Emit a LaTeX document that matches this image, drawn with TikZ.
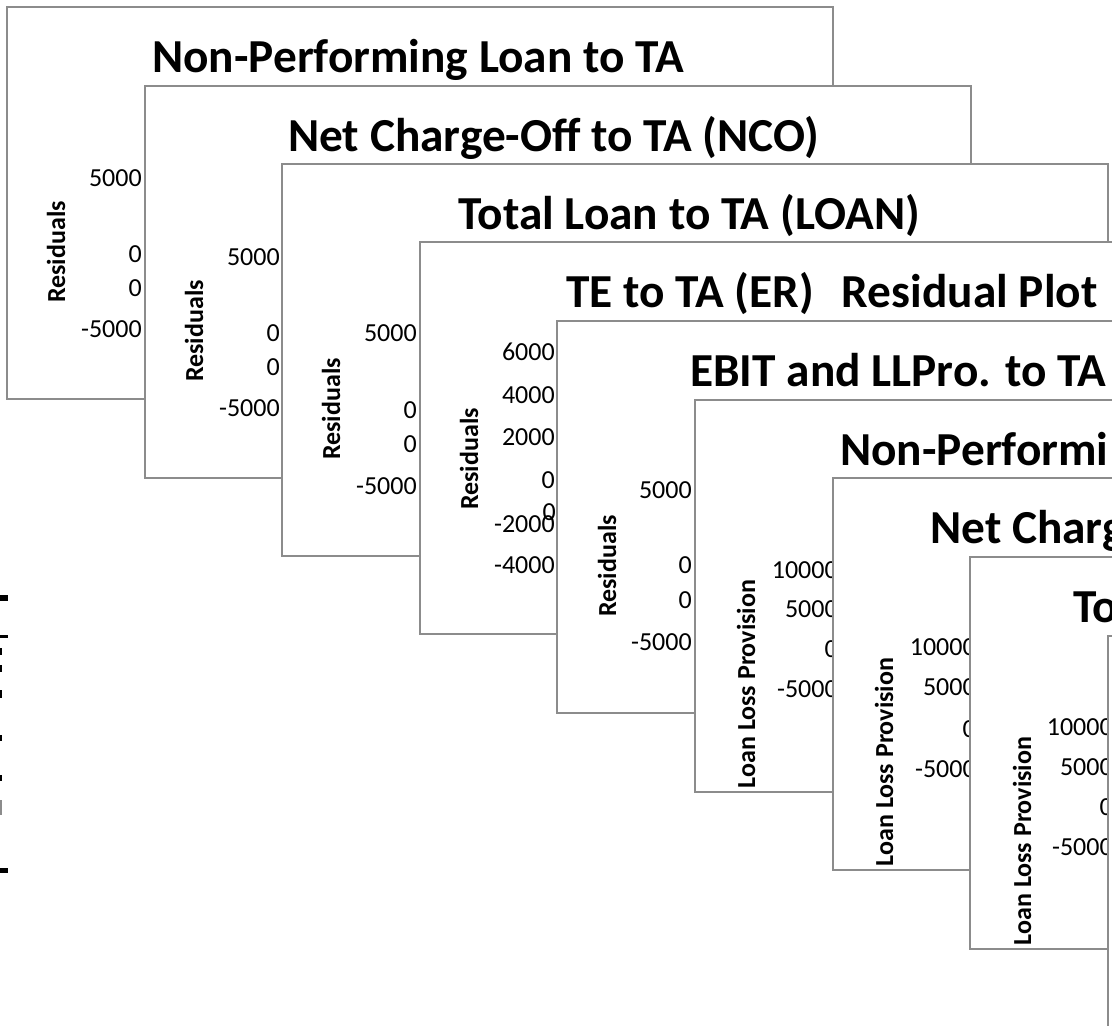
\documentclass[tikz,border=0pt]{standalone}
\usepackage{fontspec}
\setmainfont{Carlito}
\usepackage{tikz}
\definecolor{panelgray}{RGB}{140,140,140}

\begin{document}
\begin{tikzpicture}[
            x=0.75pt, y=-0.75pt,
            panel/.style={rectangle, draw=panelgray, fill=white, line width=1.5pt, inner sep=0pt,
                          minimum width=619.5pt, minimum height=294pt, anchor=north west},
            chart_title/.style={font=\fontsize{35.5}{36}\selectfont\bfseries, inner sep=0pt, anchor=base west},
            tick_label/.style={font=\fontsize{19.5}{20}\selectfont, inner sep=0pt, anchor=base east},
            axis_title/.style={font=\fontsize{19.5}{20}\selectfont\bfseries, inner sep=0pt, rotate=90}
        ]
        \useasboundingbox (0,0) rectangle (1112,1025);
        \clip (0,0) rectangle (1112,1025);

        % Marks cut at the left edge
        \fill (0,595) rectangle (8,601);
        \fill (0,635) rectangle (8,638);
        \fill (0,648) rectangle (2,655);
        \fill (0,665) rectangle (2,672);
        \fill (0,690) rectangle (2,698);
        \fill (0,735) rectangle (2,741);
        \fill (0,775) rectangle (2,781);
        \fill[panelgray] (0,800) rectangle (2,815);
        \fill (0,868) rectangle (8,873);

        % Panel 1 - NPL
        \node[panel] (p_npl) at (6,6) {};
        \node[chart_title] (t_npl) at (152,72) {Non-Performing Loan to TA};
        \node[tick_label] (npl_a) at (142,186) {5000};
        \node[tick_label] (npl_b) at (142,262) {0};
        \node[tick_label] (npl_c) at (142,296) {0};
        \node[tick_label] (npl_d) at (142,337) {-5000};
        \node[axis_title] (y_npl) at (56,252) {Residuals};

        % Panel 2 - NCO
        \node[panel] (p_nco) at (144,85) {};
        \node[chart_title] (t_nco) at (288,151) {Net Charge-Off to TA (NCO)};
        \node[tick_label] (nco_a) at (280,265) {5000};
        \node[tick_label] (nco_b) at (280,341) {0};
        \node[tick_label] (nco_c) at (280,375) {0};
        \node[tick_label] (nco_d) at (280,416) {-5000};
        \node[axis_title] (y_nco) at (194,331) {Residuals};

        % Panel 3 - LOAN
        \node[panel] (p_loan) at (281,163) {};
        \node[chart_title] (t_loan) at (458,229) {Total Loan to TA (LOAN)};
        \node[tick_label] (loan_a) at (417,341) {5000};
        \node[tick_label] (loan_b) at (417,418) {0};
        \node[tick_label] (loan_c) at (417,452) {0};
        \node[tick_label] (loan_d) at (417,494) {-5000};
        \node[axis_title] (y_loan) at (331,409) {Residuals};

        % Panel 4 - ER
        \node[panel] (p_er) at (419,241) {};
        \node[chart_title] (t_er) at (566,307) {TE to TA (ER)\hspace{21pt}Residual Plot};
        \node[tick_label] (er_a) at (555,360) {6000};
        \node[tick_label] (er_b) at (555,403) {4000};
        \node[tick_label] (er_c) at (555,445) {2000};
        \node[tick_label] (er_d) at (555,488) {0};
        \node[tick_label] (er_e) at (556,520) {0};
        \node[tick_label] (er_f) at (555,532) {-2000};
        \node[tick_label] (er_g) at (555,573) {-4000};
        \node[axis_title] (y_er) at (469,459) {Residuals};

        % Panel 5 - EBIT
        \node[panel] (p_ebit) at (556,320) {};
        \node[chart_title] (t_ebit) at (690,386) {EBIT and LLPro. to TA};
        \node[tick_label] (ebit_a) at (692,498) {5000};
        \node[tick_label] (ebit_b) at (692,573) {0};
        \node[tick_label] (ebit_c) at (692,608) {0};
        \node[tick_label] (ebit_d) at (692,650) {-5000};
        \node[axis_title] (y_ebit) at (607,566) {Residuals};

        % Panel 6 - NPL, loan loss provision
        \node[panel] (p_npl_llp) at (694,399) {};
        \node[chart_title] (t_npl_llp) at (840,465) {Non-Performi};
        \node[tick_label] (npl_llp_a) at (838,578) {10000};
        \node[tick_label] (npl_llp_b) at (838,617) {5000};
        \node[tick_label] (npl_llp_c) at (838,657) {0};
        \node[tick_label] (npl_llp_d) at (838,697) {-5000};
        \node[axis_title] (y_npl_llp) at (746,684) {Loan Loss Provision};

        % Panel 7 - NCO, loan loss provision
        \node[panel] (p_nco_llp) at (832,477) {};
        \node[chart_title] (t_nco_llp) at (930,543) {Net Charg};
        \node[tick_label] (nco_llp_a) at (976,655) {10000};
        \node[tick_label] (nco_llp_b) at (976,695) {5000};
        \node[tick_label] (nco_llp_c) at (976,737) {0};
        \node[tick_label] (nco_llp_d) at (976,777) {-5000};
        \node[axis_title] (y_nco_llp) at (884,762) {Loan Loss Provision};

        % Panel 8 - LOAN, loan loss provision
        \node[panel] (p_loan_llp) at (969,556) {};
        \node[chart_title] (t_loan_llp) at (1073,622) {To};
        \node[tick_label] (loan_llp_a) at (1113,735) {10000};
        \node[tick_label] (loan_llp_b) at (1113,775) {5000};
        \node[tick_label] (loan_llp_c) at (1113,815) {0};
        \node[tick_label] (loan_llp_d) at (1113,855) {-5000};
        \node[axis_title] (y_loan_llp) at (1022,841) {Loan Loss Provision};

        % Panel 9
        \node[panel] (p_last) at (1107,635) {};

    \end{tikzpicture}
\end{document}
